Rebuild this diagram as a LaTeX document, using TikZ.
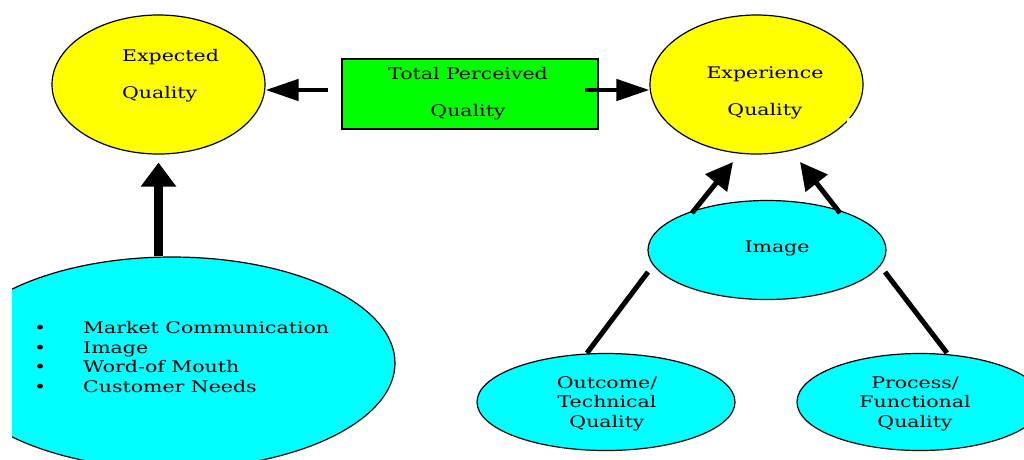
\documentclass[tikz,border=0pt]{standalone}
\usepackage{fontspec}
\setmainfont{DejaVu Serif}[FakeStretch=1.28]
\usetikzlibrary{shapes.geometric,arrows.meta}
\definecolor{yel}{HTML}{FFFF00}
\definecolor{grn}{HTML}{00FF00}
\definecolor{cyn}{HTML}{00FFFF}
\begin{document}
\begin{tikzpicture}[x=1pt,y=-1pt,
  oval/.style={ellipse, draw=black, line width=1.2pt, inner sep=0pt},
  yoval/.style={oval, fill=yel},
  coval/.style={oval, fill=cyn},
  lbl/.style={inner sep=0pt, anchor=base, font=\fontsize{16}{37}\selectfont},
  slbl/.style={inner sep=0pt, anchor=base, font=\fontsize{16}{19.5}\selectfont},
  harr/.style={line width=4.5pt, -{Triangle[length=33pt,width=21pt]}},
  varr/.style={line width=9pt, -{Triangle[length=24pt,width=34pt]}},
  darr/.style={line width=5pt, -{Triangle[length=27pt,width=27pt]}},
  lnk/.style={line width=5pt}]
\useasboundingbox (0,0) rectangle (1024,459);
\fill[white] (0,0) rectangle (1024,459);

% big ellipse (clipped at left and bottom)
\begin{scope}
  \clip (12,0) rectangle (1024,459);
  \node[coval, minimum width=446pt, minimum height=212pt] (mkt) at (172,363) {};
\end{scope}
\node[slbl, anchor=base west, align=left] (mktt) at (34,392)
  {\makebox[49pt][l]{\textbullet}Market Communication\\
   \makebox[49pt][l]{\textbullet}Image\\
   \makebox[49pt][l]{\textbullet}Word-of Mouth\\
   \makebox[49pt][l]{\textbullet}Customer Needs};

% top nodes
\node[yoval, minimum width=213pt, minimum height=139pt] (exq) at (158.5,84.5) {};
\node[lbl, anchor=base west, align=left] (exqt) at (122,98) {Expected\\Quality};

\node[draw=black, line width=1.2pt, fill=grn, minimum width=256pt, minimum height=70pt, inner sep=0pt] (tpq) at (470,94) {};
\node[lbl, align=center] (tpqt) at (468,116) {Total Perceived\\Quality};

\node[yoval, minimum width=213pt, minimum height=139pt] (xpq) at (756.5,84.5) {};
\node[lbl, align=center] (xpqt) at (765,115) {Experience\\Quality};
\fill[white] (847,118) rectangle (868,127);

% image ellipse
\node[coval, minimum width=238pt, minimum height=99pt] (img) at (767,250) {};
\node[lbl] (imgt) at (777,252) {Image};

% bottom ellipses
\begin{scope}
  \clip (0,0) rectangle (1024,459);
  \node[coval, minimum width=258pt, minimum height=97pt] (otq) at (606,402) {};
  \node[coval, minimum width=246pt, minimum height=97pt] (pfq) at (920,402) {};
\end{scope}
\node[slbl, align=center] (otqt) at (607,427) {Outcome/\\Technical\\Quality};
\node[slbl, align=center] (pfqt) at (915,427) {Process/\\Functional\\Quality};

% connector end points
\coordinate (tpqL) at (328,90);
\coordinate (tpqR) at (585,90);
\coordinate (imgUL) at (692,213);
\coordinate (imgUR) at (840,213);
\coordinate (xpqL) at (733,162);
\coordinate (xpqR) at (800,162);
\coordinate (imgDL) at (648,272);
\coordinate (imgDR) at (885,272);
\coordinate (otqT) at (587,353);
\coordinate (pfqT) at (947,353);

% connectors
\draw[harr] (tpqL) -- (tpqL -| exq.east);
\draw[harr] (tpqR) -- (tpqR -| xpq.west);
\draw[varr, shorten >=8pt] (exq.south |- mkt.north) -- (exq.south);
\draw[darr] (imgUL) -- (xpqL);
\draw[darr] (imgUR) -- (xpqR);
\draw[lnk] (imgDL) -- (otqT);
\draw[lnk] (imgDR) -- (pfqT);
\end{tikzpicture}
\end{document}
